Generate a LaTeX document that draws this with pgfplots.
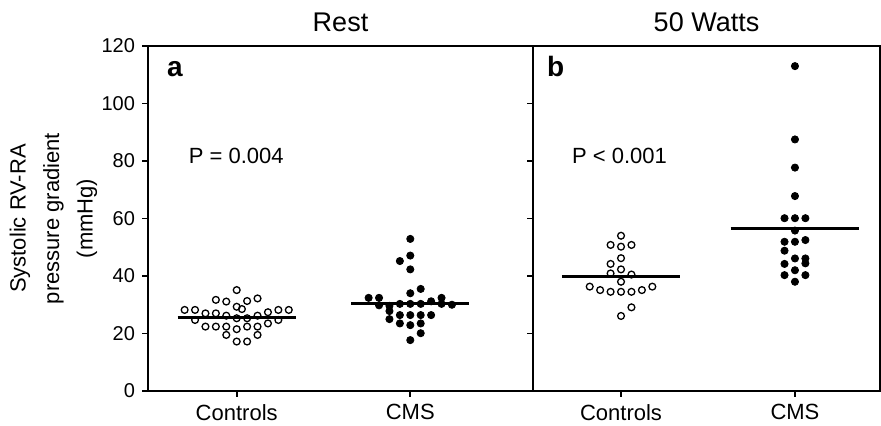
\documentclass[border=0pt]{standalone}
\usepackage{fontspec}
\setmainfont{Liberation Sans}
\usepackage{pgfplots}
\pgfplotsset{compat=1.18}

\begin{document}
\begin{tikzpicture}
\path[use as bounding box] (0,0) rectangle (440.5pt,213pt);
\pgfplotsset{
  panel/.style={
    scale only axis, height=172.5pt,
    ymin=0, ymax=120, ytick={0,20,...,120},
    xtick={1,2}, xticklabels={Controls,CMS},
    tick align=outside, xtick pos=bottom, ytick pos=left,
    major tick length=3pt,
    axis line style={line width=0.8pt},
    tick style={line width=0.8pt, black},
    yticklabel style={font=\fontsize{10}{12}\selectfont},
    xticklabel style={font=\fontsize{11}{13}\selectfont},
    /pgf/number format/assume math mode=true,
    title style={font=\fontsize{13.5}{16}\selectfont, anchor=base, at={(0.5,1)}, yshift=1pt},
  },
  ctrl/.style={only marks, mark=o, mark size=1.7pt, mark options={line width=0.65pt, black}},
  cms/.style={only marks, mark=*, mark size=1.8pt, black},
  med/.style={line width=1.5pt, black},
}

% Rest
\begin{axis}[panel, at={(74pt,17.5pt)}, anchor=south west, width=192.5pt,
  xmin=0.489, xmax=2.707, title={Rest},
  ylabel={Systolic RV-RA\\[3.25pt]pressure gradient\\[3.25pt](mmHg)},
  ylabel style={align=center, font=\fontsize{11}{13.5}\selectfont,
    at={(axis description cs:-0.2455,0.5)}, anchor=center}]
\addplot[ctrl] coordinates {
  (1,35.1)
  (0.88,31.7) (0.94,31.1) (1.06,31.3) (1.12,32.2)
  (1,29.3) (1.03,28.5)
  (0.70,28.2) (0.76,28.2) (0.82,27.0) (0.88,27.0) (0.94,26.2) (1,25.3)
  (1.06,25.3) (1.12,26.2) (1.18,27.4) (1.24,28.2) (1.30,28.2)
  (0.76,24.7) (1.24,24.7)
  (0.82,22.4) (0.88,22.4) (0.94,22.4) (1,21.5) (1.06,22.4) (1.12,22.4) (1.18,23.5)
  (0.94,19.5) (1.12,19.5)
  (1,17.2) (1.06,17.2)
};
\addplot[cms] coordinates {
  (2,52.9) (2,47.1) (1.94,45.2) (2,42.3)
  (2.06,35.5) (2,34.0)
  (1.76,32.4) (1.82,32.4) (2.18,32.4)
  (1.82,29.8) (1.88,29.6) (1.94,30.3) (2,30.3) (2.06,30.3) (2.12,31.2) (2.18,30.3) (2.24,30.0)
  (1.88,27.8) (1.94,26.4) (2,26.4) (2.06,26.4) (2.12,26.4)
  (1.88,25.0) (1.94,23.5) (2,22.9) (2.06,23.5)
  (2.06,20.1) (2,17.7)
};
\addplot[med] coordinates {(0.66,25.7) (1.34,25.7)};
\addplot[med] coordinates {(1.66,30.6) (2.34,30.6)};
\node[font=\bfseries\fontsize{14}{16}\selectfont, anchor=base west, xshift=6pt, yshift=-15.5pt]
  at (rel axis cs:0,1) {a};
\node[font=\fontsize{11}{13}\selectfont, anchor=base west] at (axis cs:0.684,79.3) {P = 0.004};
\end{axis}

% 50 Watts
\begin{axis}[panel, at={(266.5pt,17.5pt)}, anchor=south west, width=173.5pt,
  xmin=0.494, xmax=2.489, title={50 Watts}, yticklabels={}]
\addplot[ctrl] coordinates {
  (1,54.0)
  (0.94,50.8) (1,50.2) (1.06,50.8)
  (1,46.2)
  (0.94,44.2) (1,42.3)
  (0.94,40.9) (1.06,40.5) (1,38.0)
  (0.82,36.3) (0.88,35.1) (0.94,34.5) (1,34.5) (1.06,34.5) (1.12,35.1) (1.18,36.3)
  (1.06,29.1) (1,26.1)
};
\addplot[cms] coordinates {
  (2,113)
  (2,87.5) (2,77.7) (2,67.8)
  (1.94,60.1) (2,60.1) (2.06,60.1)
  (2,55.8)
  (1.94,51.9) (2,51.9) (2.06,52.5)
  (1.94,48.8)
  (2,46.1) (2.06,46.1)
  (1.94,44.2) (2.06,44.4)
  (1.94,40.3) (2,42.0) (2.06,40.3)
  (2,38.0)
};
\addplot[med] coordinates {(0.66,39.8) (1.34,39.8)};
\addplot[med] coordinates {(1.63,56.5) (2.37,56.5)};
\node[font=\bfseries\fontsize{14}{16}\selectfont, anchor=base west, xshift=3.5pt, yshift=-15.5pt]
  at (rel axis cs:0,1) {b};
\node[font=\fontsize{11}{13}\selectfont, anchor=base west] at (axis cs:0.678,79.3) {P < 0.001};
\end{axis}
\end{tikzpicture}
\end{document}
